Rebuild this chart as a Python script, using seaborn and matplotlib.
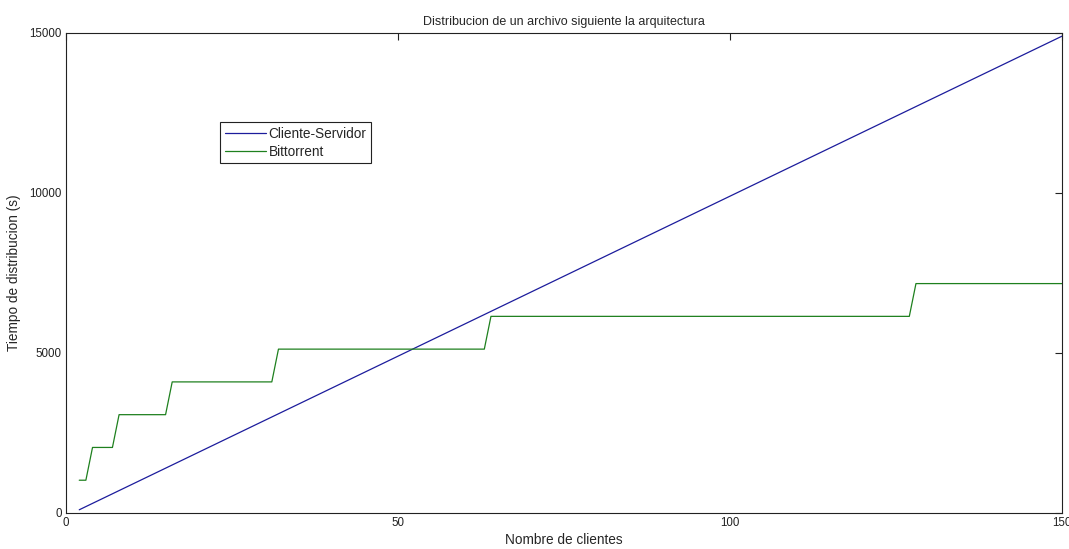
import pandas as pd
import matplotlib
matplotlib.use("Agg")
import matplotlib.pyplot as plt
import seaborn as sns

# Datos
clientes_cs = [2, 150]
tiempo_cs = [100, 14900]

clientes_bt = [2, 3, 4, 7, 8, 15, 16, 31, 32, 63, 64, 127, 128, 150]
tiempo_bt = [1024, 1024, 2048, 2048, 3072, 3072, 4096, 4096,
             5120, 5120, 6144, 6144, 7168, 7168]

x_ticks = [0, 50, 100, 150]
y_ticks = [0, 5000, 10000, 15000]

sns.set_style("white")
plt.rcParams['font.family'] = ['Liberation Sans', 'DejaVu Sans']

df_cs = pd.DataFrame({'clientes': clientes_cs, 'tiempo': tiempo_cs})
df_bt = pd.DataFrame({'clientes': clientes_bt, 'tiempo': tiempo_bt})

fig = plt.figure(figsize=(10.69, 5.49), dpi=100)
ax = fig.add_axes([0.0617, 0.0656, 0.9318, 0.8744])

sns.lineplot(data=df_cs, x='clientes', y='tiempo', ax=ax, color='#1c1c9c',
             linewidth=0.9, estimator=None, sort=False, label='Cliente-Servidor')
sns.lineplot(data=df_bt, x='clientes', y='tiempo', ax=ax, color='#1e801e',
             linewidth=0.9, estimator=None, sort=False, label='Bittorrent')

ax.set_xlim(0, 150)
ax.set_ylim(0, 15000)
ax.set_xticks(x_ticks)
ax.set_yticks(y_ticks)
ax.tick_params(direction='in', length=5, width=0.8, labelsize=8.3, colors='#222222',
               top=True, right=True, pad=3)
for s in ax.spines.values():
    s.set_color('#222222')
    s.set_linewidth(0.8)

ax.set_title("Distribucion de un archivo siguiente la arquitectura", fontsize=9, pad=6)
ax.set_xlabel("Nombre de clientes", fontsize=9.8, labelpad=3)
ax.set_ylabel("Tiempo de distribucion (s)", fontsize=9.8, labelpad=6)

leg = ax.legend(loc='upper left', bbox_to_anchor=(0.155, 0.815), fontsize=9.8,
                frameon=True, fancybox=False, framealpha=1, edgecolor='#222222',
                handlelength=3.0, borderpad=0.35, labelspacing=0.3, handletextpad=0.2,
                borderaxespad=0)
leg.get_frame().set_linewidth(0.8)

fig.savefig("out.png", dpi=100)
